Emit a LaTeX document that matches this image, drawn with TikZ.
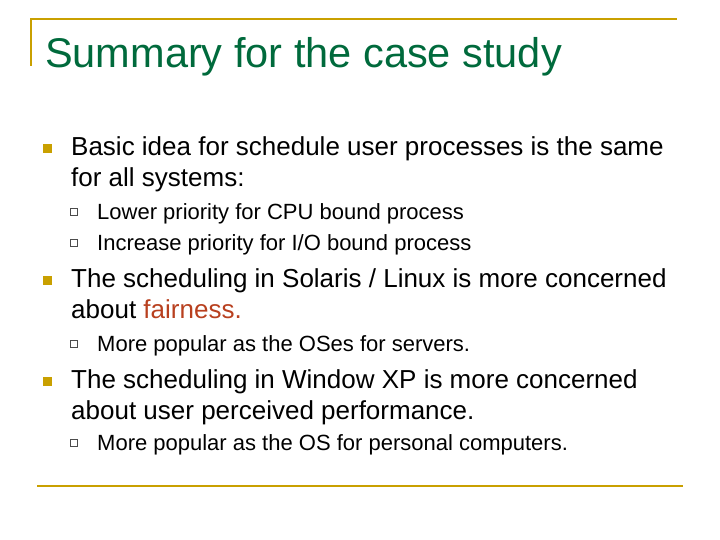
\documentclass[tikz,border=0pt]{standalone}
\usepackage{fontspec}
\setmainfont{Liberation Sans}
\definecolor{ttl}{HTML}{006A3C}
\definecolor{gold}{HTML}{C9A000}
\definecolor{fair}{HTML}{B8401F}
\tikzset{
  l1/.style={anchor=base west,font=\fontsize{26}{26}\selectfont,inner sep=0},
  l2/.style={anchor=base west,font=\fontsize{22}{22}\selectfont,inner sep=0},
  b1/.style={fill=gold,minimum size=9pt,inner sep=0},
  b2/.style={draw=black!70,line width=0.8pt,minimum size=7pt,inner sep=0},
  rule/.style={gold,line width=2.5pt}
}
\begin{document}
\begin{tikzpicture}[x=1pt,y=-1pt]
\useasboundingbox (0,0) rectangle (720,540);
\coordinate (tl) at (31,66);
\coordinate (tc) at (31,19);
\coordinate (tr) at (677,19);
\draw[rule] (tl) -- (tc) -- (tr);
\coordinate (bl) at (37,486);
\coordinate (br) at (683,486);
\draw[rule] (bl) -- (br);
\node[anchor=base west,inner sep=0,text=ttl,font=\fontsize{41.5}{41.5}\selectfont] (title) at (45,68) {Summary for the case study};
\node[b1] (p1) at (47,149) {};
\node[l1] (t1a) at (71,156) {Basic idea for schedule user processes is the same};
\node[l1] (t1b) at (71,187) {for all systems:};
\node[b2] (q1) at (74,212) {};
\node[l2] (s1) at (97,219) {Lower priority for CPU bound process};
\node[b2] (q2) at (74,243) {};
\node[l2] (s2) at (97,250) {Increase priority for I/O bound process};
\node[b1] (p2) at (47,280) {};
\node[l1] (t2a) at (71,287) {The scheduling in Solaris / Linux is more concerned};
\node[l1] (t2b) at (71,318) {about \textcolor{fair}{fairness.}};
\node[b2] (q3) at (74,344) {};
\node[l2] (s3) at (97,351) {More popular as the OSes for servers.};
\node[b1] (p3) at (47,381) {};
\node[l1] (t3a) at (71,388) {The scheduling in Window XP is more concerned};
\node[l1] (t3b) at (71,419) {about user perceived performance.};
\node[b2] (q4) at (74,443) {};
\node[l2] (s4) at (97,450) {More popular as the OS for personal computers.};
\end{tikzpicture}
\end{document}
